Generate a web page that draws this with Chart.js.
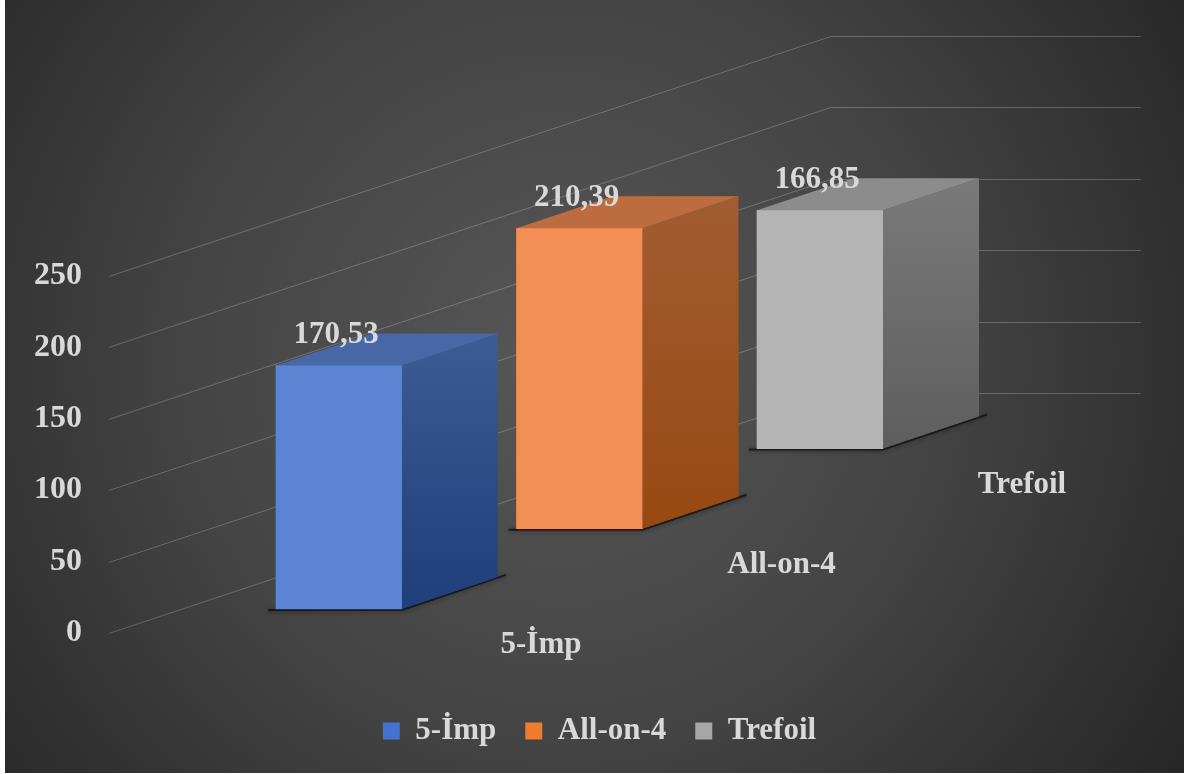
<!DOCTYPE html>
<html><head><meta charset="utf-8">
<script src="https://cdn.jsdelivr.net/npm/chart.js@4"></script>
<style>html,body{margin:0;padding:0;background:#fff;overflow:hidden}canvas{display:block}</style>
</head><body>
<canvas id="c" width="1192" height="774"></canvas>
<script>
// ---- data ----
const categories = ['5-İmp', 'All-on-4', 'Trefoil'];
const seriesNames = ['5-İmp', 'All-on-4', 'Trefoil'];
const values = [170.53, 210.39, 166.85];
const yTickValues = [0, 50, 100, 150, 200, 250];
const yMin = 0, yMax = 250, yStep = 50;

// ---- style ----
const FONT = "'Liberation Serif', 'Times New Roman', serif";
const TEXT = '#d9d9d9';
const STYLES = [
  {front: ['#5d84d3', '#2e62c2'], side: ['#3d5b94', '#1f3e7a'], top: '#4767a6', legend: '#4372d0'},
  {front: ['#f38e57', '#e76b18'], side: ['#a25c33', '#984911'], top: '#bd6c3f', legend: '#ef7b2c'},
  {front: ['#b5b5b5', '#9b9b9b'], side: ['#7a7a7a', '#5e5e5e'], top: '#8c8c8c', legend: '#a6a6a6'}
];
const SLOPE = 1 / 3;          // oblique depth direction: 1px up per 3px right
const DEPTH_X = 96;           // bar depth (horizontal component)
const DEPTH_Y = DEPTH_X * SLOPE;
const FLOOR_ORIGIN = 48;      // where depth offset is zero, from chart-area left
const WALL_LEFT = 110, WALL_RUN = 722, BACK_RUN = 310;

function depthShift(chart, x) {
  return -(x - (chart.chartArea.left + FLOOR_ORIGIN)) * SLOPE;
}
function activeEl(chart, meta) {
  const data = chart.data.datasets[meta.index].data;
  const j = data.findIndex(v => v != null);
  return {el: meta.data[j].getProps(['x', 'y', 'base', 'width'], true), j};
}

const bar3d = {
  id: 'bar3d',
  beforeDraw(chart) {
    const ctx = chart.ctx;
    ctx.save();
    ctx.fillStyle = '#ffffff';
    ctx.fillRect(0, 0, chart.width, chart.height);
    const g = ctx.createRadialGradient(560, 360, 0, 560, 360, 750);
    g.addColorStop(0, '#575757');
    g.addColorStop(0.5, '#444444');
    g.addColorStop(1, '#262626');
    ctx.fillStyle = g;
    ctx.fillRect(5, 0, 1179, 773);
    ctx.restore();
  },
  beforeDatasetsDraw(chart) {
    const ctx = chart.ctx, ys = chart.scales.y, ca = chart.chartArea;
    const x0 = ca.left - WALL_LEFT, x1 = x0 + WALL_RUN, x2 = x1 + BACK_RUN;
    const rise = WALL_RUN * SLOPE;
    ctx.save();
    ctx.strokeStyle = 'rgba(255,255,255,0.22)';
    ctx.lineWidth = 1;
    yTickValues.forEach(v => {
      const y = Math.round(ys.getPixelForValue(v)) + 0.5;
      ctx.beginPath();
      ctx.moveTo(x0, y);
      ctx.lineTo(x1, Math.round(y - rise) + 0.5);
      ctx.lineTo(x2, Math.round(y - rise) + 0.5);
      ctx.stroke();
    });
    ctx.restore();
  },
  beforeDatasetDraw(chart, args) {
    const ctx = chart.ctx;
    const {el} = activeEl(chart, args.meta);
    ctx.save();
    ctx.translate(0, depthShift(chart, el.x));
    const l = el.x - el.width / 2, r = el.x + el.width / 2, b = el.base;
    ctx.save();
    ctx.shadowColor = 'rgba(0,0,0,0.7)';
    ctx.shadowBlur = 4;
    ctx.shadowOffsetY = 1;
    ctx.strokeStyle = 'rgba(0,0,0,0.6)';
    ctx.lineWidth = 2;
    ctx.beginPath();
    ctx.moveTo(l - 8, b + 1);
    ctx.lineTo(r, b + 1);
    ctx.lineTo(r + DEPTH_X + 8, b - DEPTH_Y - 2);
    ctx.stroke();
    ctx.restore();
  },
  afterDatasetDraw(chart, args) {
    const ctx = chart.ctx;
    const {el} = activeEl(chart, args.meta);
    const st = STYLES[args.index];
    const l = el.x - el.width / 2, r = el.x + el.width / 2, t = el.y, b = el.base;
    // side face
    const g = ctx.createLinearGradient(0, t - DEPTH_Y, 0, b);
    g.addColorStop(0, st.side[0]);
    g.addColorStop(1, st.side[1]);
    ctx.fillStyle = g;
    ctx.beginPath();
    ctx.moveTo(r, t);
    ctx.lineTo(r + DEPTH_X, t - DEPTH_Y);
    ctx.lineTo(r + DEPTH_X, b - DEPTH_Y);
    ctx.lineTo(r, b);
    ctx.closePath();
    ctx.fill();
    // top face
    ctx.fillStyle = st.top;
    ctx.beginPath();
    ctx.moveTo(l, t);
    ctx.lineTo(r, t);
    ctx.lineTo(r + DEPTH_X, t - DEPTH_Y);
    ctx.lineTo(l + DEPTH_X, t - DEPTH_Y);
    ctx.closePath();
    ctx.fill();
    ctx.restore();
  },
  afterDatasetsDraw(chart) {
    const ctx = chart.ctx;
    ctx.save();
    ctx.fillStyle = TEXT;
    ctx.font = 'bold 31px ' + FONT;
    ctx.textAlign = 'center';
    ctx.textBaseline = 'middle';
    chart.data.datasets.forEach((ds, i) => {
      const {el, j} = activeEl(chart, chart.getDatasetMeta(i));
      const dy = depthShift(chart, el.x);
      ctx.fillText(values[j].toFixed(2).replace('.', ','), el.x - 3, el.y + dy - 30);
    });
    categories.forEach((c, i) => {
      const x = chart.scales.x.getPixelForValue(i);
      const y = chart.scales.y.getPixelForValue(0) + depthShift(chart, x);
      ctx.fillText(c, x + 202, y + 36);
    });
    ctx.restore();
  }
};

const datasets = seriesNames.map((name, i) => ({
  label: name,
  data: categories.map((c, j) => (j === i ? values[i] : null)),
  barThickness: 126,
  borderWidth: 0,
  clip: false,
  backgroundColor: (ctx) => {
    const el = ctx.element;
    const st = STYLES[ctx.datasetIndex];
    if (!el || !isFinite(el.y) || !isFinite(el.base)) return st.front[0];
    const g = ctx.chart.ctx.createLinearGradient(0, el.y, 0, el.base);
    g.addColorStop(0, st.front[0]);
    g.addColorStop(1, st.front[1]);
    return g;
  }
}));

new Chart(document.getElementById('c'), {
  type: 'bar',
  data: {labels: categories, datasets},
  plugins: [bar3d],
  options: {
    responsive: false,
    animation: false,
    events: [],
    layout: {padding: {top: 276, left: 34, right: 27, bottom: 17.5}},
    scales: {
      x: {
        stacked: true,
        offset: true,
        display: true,
        ticks: {display: false},
        grid: {display: false, drawTicks: true, tickLength: 53.5},
        border: {display: false},
        afterFit(scale) { scale.paddingRight = 251.75; }
      },
      y: {
        min: yMin, max: yMax,
        ticks: {stepSize: yStep, padding: 136.75, color: TEXT, font: {family: FONT, size: 32, weight: 'bold'}},
        grid: {display: false, drawTicks: false},
        border: {display: false},
        afterFit(scale) { scale.width = 184.75; scale.paddingTop = 0; scale.paddingBottom = 0; }
      }
    },
    plugins: {
      tooltip: {enabled: false},
      legend: {
        position: 'bottom',
        labels: {
          boxWidth: 17, boxHeight: 17, padding: 29,
          color: TEXT,
          font: {family: FONT, size: 31, weight: 'bold'},
          generateLabels: (chart) => chart.data.datasets.map((ds, i) => ({
            text: ds.label, fillStyle: STYLES[i].legend, strokeStyle: 'rgba(0,0,0,0)',
            lineWidth: 0, hidden: false, datasetIndex: i, fontColor: TEXT
          }))
        }
      }
    }
  }
});
</script>
</body></html>
